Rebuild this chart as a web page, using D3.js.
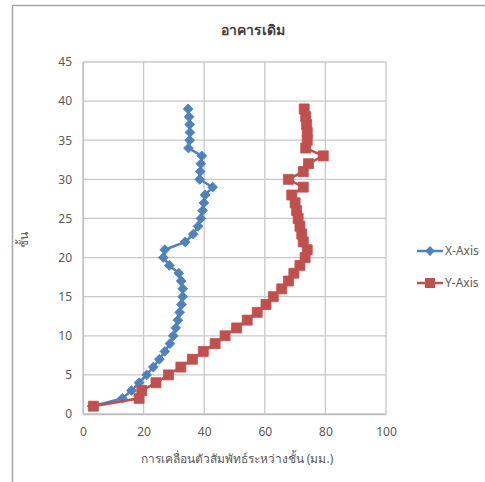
<!DOCTYPE html>
<html><head><meta charset="utf-8">
<script src="https://cdn.jsdelivr.net/npm/d3@7"></script>
<style>body{margin:0;background:#fff;} text{font-family:"Noto Sans","DejaVu Sans",sans-serif;}</style>
</head><body><svg id="c" width="485" height="482"></svg>
<script>
const floors = d3.range(1, 40);
const xAxisDrift = [3,13,16,18.5,21,23.2,25.2,27,28.7,29.8,30.6,31.3,31.9,32.5,32.9,32.9,32.4,31.6,28.5,26.5,27,33.7,36.4,38,38.9,39.5,39.9,40.3,42.8,38.5,38.7,38.9,39.2,34.8,35.2,35.3,35.2,35,34.7];
const yAxisDrift = [3.4,18.5,19.4,24.1,28.2,32.3,36.1,39.7,43.6,46.9,50.7,54.2,57.5,60.4,62.8,65.6,67.8,69.6,71.6,73.3,74,72.7,72.2,71.6,71,70.5,70,68.9,72.7,67.8,72.7,74.4,79.3,73.5,74,74,73.8,73.5,73];
const xTicks = [0,20,40,60,80,100];
const yTicks = [0,5,10,15,20,25,30,35,40,45];
const seriesNames = ["X-Axis","Y-Axis"];
const colors = ["#4F81BD","#C0504D"];
const title = "อาคารเดิม";
const xTitle = "การเคลื่อนตัวสัมพัทธ์ระหว่างชั้น (มม.)";
const yTitle = "ชั้น";

const svg = d3.select("#c");
// outer frame
svg.append("path").attr("d","M12.5,482 V5.5 H485").attr("fill","none").attr("stroke","#a6a6a6").attr("stroke-width",1.5);

const x = d3.scaleLinear().domain([0,100]).range([83,386]);
const y = d3.scaleLinear().domain([0,45]).range([414,62]);

// grid
svg.append("g").selectAll("line").data(xTicks).join("line")
  .attr("x1",d=>x(d)).attr("x2",d=>x(d)).attr("y1",y(0)).attr("y2",y(45))
  .attr("stroke","#c8c8c8").attr("stroke-width",1.3);
svg.append("g").selectAll("line").data(yTicks).join("line")
  .attr("x1",x(0)).attr("x2",x(100)).attr("y1",d=>y(d)).attr("y2",d=>y(d))
  .attr("stroke","#c8c8c8").attr("stroke-width",1.3);

// axes
const xa = svg.append("g").attr("transform",`translate(0,${y(0)})`)
  .call(d3.axisBottom(x).tickValues(xTicks).tickSize(0).tickPadding(13));
const ya = svg.append("g").attr("transform",`translate(${x(0)},0)`)
  .call(d3.axisLeft(y).tickValues(yTicks).tickSize(0).tickPadding(11));
[xa,ya].forEach(a=>{a.select(".domain").attr("stroke","#bfbfbf").attr("stroke-width",1.3);
  a.selectAll("text").attr("fill","#595959").attr("font-size",12);});

const symbolFor = i => i===0 ? d3.symbol().type(d3.symbolSquare).size(48) : d3.symbol().type(d3.symbolSquare).size(100);
const rot = i => i===0 ? " rotate(45)" : "";

// series
const data = [xAxisDrift, yAxisDrift];
const line = d3.line().x(d=>x(d[0])).y(d=>y(d[1]));
data.forEach((vals,i)=>{
  const pts = vals.map((v,j)=>[v,floors[j]]);
  svg.append("path").datum(pts).attr("d",line).attr("fill","none")
    .attr("stroke",colors[i]).attr("stroke-width",2.5);
  svg.append("g").selectAll("path").data(pts).join("path")
    .attr("transform",d=>`translate(${x(d[0])},${y(d[1])})${rot(i)}`)
    .attr("d", symbolFor(i))
    .attr("fill",colors[i]).attr("stroke",colors[i]).attr("stroke-width",0.8);
});

// titles
svg.append("text").attr("x",253).attr("y",35).attr("text-anchor","middle")
  .attr("font-size",14).attr("font-weight","bold").attr("fill","#404040").text(title);
svg.append("text").attr("x",237).attr("y",463).attr("text-anchor","middle")
  .attr("font-size",12).attr("fill","#595959").text(xTitle);
svg.append("text").attr("transform","translate(28,240) rotate(-90)").attr("text-anchor","middle")
  .attr("font-size",12).attr("fill","#595959").text(yTitle);

// legend
const ly = [251,283];
seriesNames.forEach((n,i)=>{
  const g = svg.append("g");
  g.append("line").attr("x1",417).attr("x2",443).attr("y1",ly[i]).attr("y2",ly[i])
    .attr("stroke",colors[i]).attr("stroke-width",2.5);
  g.append("path").attr("transform",`translate(430,${ly[i]})${rot(i)}`)
    .attr("d", symbolFor(i)()).attr("fill",colors[i]);
  g.append("text").attr("x",445).attr("y",ly[i]+4).attr("font-size",12).attr("fill","#595959").text(n);
});
</script></body></html>
